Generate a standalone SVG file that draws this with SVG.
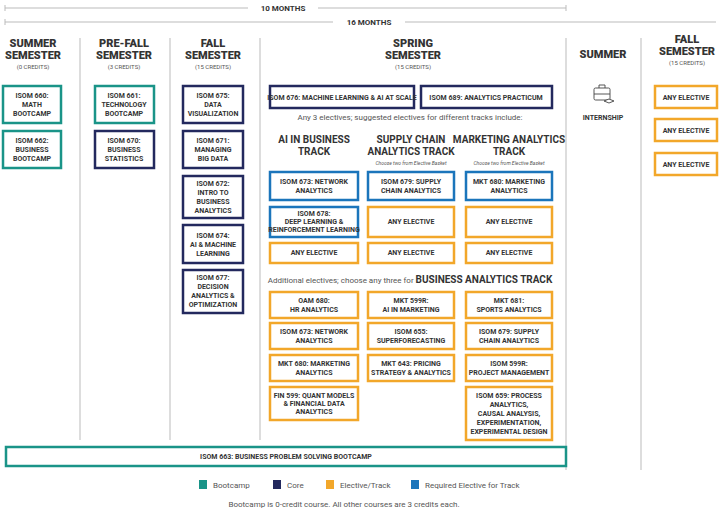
<svg xmlns="http://www.w3.org/2000/svg" width="720" height="510" viewBox="0 0 720 510">
<style>
text{font-family:Roboto,"Liberation Sans",sans-serif;fill:#333;text-anchor:middle}
.b{font-weight:bold;font-size:7px;fill:#333}
.h{font-weight:900;font-size:11px;fill:#333}
.c{font-size:6px;fill:#555}
.t{font-weight:bold;font-size:10px;fill:#333}
.s{font-size:8px;fill:#555}
.i{font-size:5px;font-style:italic;fill:#555}
rect{fill:#fff;stroke-width:2.5}
.bc{stroke:#1a9488}.co{stroke:#23295e}.el{stroke:#f2a72a}.rq{stroke:#1b75bb}
.ln{stroke:#bbb;stroke-width:1;fill:none}
</style>
<g id="timeline">
<path class="ln" d="M5 8H248M318 8H566M566 5V11M5 5V11M5 22H333M405 22H716M5 19V25"/>
<text x="283" y="11" class="b" style="font-size:8px">10 MONTHS</text>
<text x="369" y="25" class="b" style="font-size:8px">16 MONTHS</text>
</g>
<g id="connectors"><path class="ln" d="M80 38V440M170 38V440M260 38V440M566 38V470M641 38V470"/></g>
<g id="headers">
<text x="33" y="47" class="h">SUMMER</text><text x="33" y="59" class="h">SEMESTER</text><text x="33" y="69" class="c">(0 CREDITS)</text>
<text x="124" y="47" class="h">PRE-FALL</text><text x="124" y="59" class="h">SEMESTER</text><text x="124" y="69" class="c">(3 CREDITS)</text>
<text x="213" y="47" class="h">FALL</text><text x="213" y="59" class="h">SEMESTER</text><text x="213" y="69" class="c">(15 CREDITS)</text>
<text x="413" y="47" class="h">SPRING</text><text x="413" y="59" class="h">SEMESTER</text><text x="413" y="69" class="c">(15 CREDITS)</text>
<text x="603" y="58" class="h">SUMMER</text>
<text x="687" y="43" class="h">FALL</text><text x="687" y="55" class="h">SEMESTER</text><text x="687" y="65" class="c">(15 CREDITS)</text>
</g>
<g id="n660"><rect class="bc" x="3" y="86" width="58" height="37"/><text class="b" x="32" y="98">ISOM 660:</text><text class="b" x="32" y="107">MATH</text><text class="b" x="32" y="116">BOOTCAMP</text></g>
<g id="n662"><rect class="bc" x="3" y="131" width="58" height="37"/><text class="b" x="32" y="143">ISOM 662:</text><text class="b" x="32" y="152">BUSINESS</text><text class="b" x="32" y="161">BOOTCAMP</text></g>
<g id="n661"><rect class="bc" x="95" y="86" width="59" height="37"/><text class="b" x="124" y="98">ISOM 661:</text><text class="b" x="124" y="107">TECHNOLOGY</text><text class="b" x="124" y="116">BOOTCAMP</text></g>
<g id="n670"><rect class="co" x="95" y="131" width="59" height="37"/><text class="b" x="124" y="143">ISOM 670:</text><text class="b" x="124" y="152">BUSINESS</text><text class="b" x="124" y="161">STATISTICS</text></g>
<g id="n675"><rect class="co" x="183" y="86" width="60" height="37"/><text class="b" x="213" y="98">ISOM 675:</text><text class="b" x="213" y="107">DATA</text><text class="b" x="213" y="116">VISUALIZATION</text></g>
<g id="n671"><rect class="co" x="183" y="131" width="60" height="37"/><text class="b" x="213" y="143">ISOM 671:</text><text class="b" x="213" y="152">MANAGING</text><text class="b" x="213" y="161">BIG DATA</text></g>
<g id="n672"><rect class="co" x="183" y="176" width="60" height="42"/><text class="b" x="213" y="186">ISOM 672:</text><text class="b" x="213" y="195">INTRO TO</text><text class="b" x="213" y="204">BUSINESS</text><text class="b" x="213" y="213">ANALYTICS</text></g>
<g id="n674"><rect class="co" x="183" y="225" width="60" height="38"/><text class="b" x="213" y="238">ISOM 674:</text><text class="b" x="213" y="247">AI &amp; MACHINE</text><text class="b" x="213" y="256">LEARNING</text></g>
<g id="n677"><rect class="co" x="183" y="270" width="60" height="43"/><text class="b" x="213" y="280">ISOM 677:</text><text class="b" x="213" y="289">DECISION</text><text class="b" x="213" y="298">ANALYTICS &amp;</text><text class="b" x="213" y="307">OPTIMIZATION</text></g>
<g id="n676"><rect class="co" x="270" y="86" width="144" height="22"/><text class="b" x="342" y="100">ISOM 676: MACHINE LEARNING &amp; AI AT SCALE</text></g>
<g id="n689"><rect class="co" x="421" y="86" width="131" height="22"/><text class="b" x="486" y="100">ISOM 689: ANALYTICS PRACTICUM</text></g>
<text x="410" y="120" class="s">Any 3 electives; suggested electives for different tracks include:</text>
<g id="tracks">
<text x="314" y="143" class="t">AI IN BUSINESS</text><text x="314" y="155" class="t">TRACK</text>
<text x="411" y="143" class="t">SUPPLY CHAIN</text><text x="411" y="155" class="t">ANALYTICS TRACK</text><text x="411" y="165" class="i">Choose two from Elective Basket</text>
<text x="509" y="143" class="t">MARKETING ANALYTICS</text><text x="509" y="155" class="t">TRACK</text><text x="509" y="165" class="i">Choose two from Elective Basket</text>
</g>
<g id="n673a"><rect class="rq" x="270" y="172" width="88" height="28"/><text class="b" x="314" y="184">ISOM 673: NETWORK</text><text class="b" x="314" y="193">ANALYTICS</text></g>
<g id="n679a"><rect class="rq" x="368" y="172" width="86" height="28"/><text class="b" x="411" y="184">ISOM 679: SUPPLY</text><text class="b" x="411" y="193">CHAIN ANALYTICS</text></g>
<g id="n680a"><rect class="rq" x="466" y="172" width="86" height="28"/><text class="b" x="509" y="184">MKT 680: MARKETING</text><text class="b" x="509" y="193">ANALYTICS</text></g>
<g id="n678"><rect class="rq" x="270" y="207" width="88" height="30"/><text class="b" x="314" y="216">ISOM 678:</text><text class="b" x="314" y="224">DEEP LEARNING &amp;</text><text class="b" x="314" y="232">REINFORCEMENT LEARNING</text></g>
<g id="e1"><rect class="el" x="368" y="207" width="86" height="30"/><text class="b" x="411" y="224">ANY ELECTIVE</text></g>
<g id="e2"><rect class="el" x="466" y="207" width="86" height="30"/><text class="b" x="509" y="224">ANY ELECTIVE</text></g>
<g id="e3"><rect class="el" x="270" y="243" width="88" height="20"/><text class="b" x="314" y="255">ANY ELECTIVE</text></g>
<g id="e4"><rect class="el" x="368" y="243" width="86" height="20"/><text class="b" x="411" y="255">ANY ELECTIVE</text></g>
<g id="e5"><rect class="el" x="466" y="243" width="86" height="20"/><text class="b" x="509" y="255">ANY ELECTIVE</text></g>
<text x="410" y="283" class="s">Additional electives; choose any three for <tspan font-weight="bold" font-size="10" fill="#333">BUSINESS ANALYTICS TRACK</tspan></text>
<g id="oam680"><rect class="el" x="270" y="292" width="88" height="26"/><text class="b" x="314" y="303">OAM 680:</text><text class="b" x="314" y="312">HR ANALYTICS</text></g>
<g id="mkt599"><rect class="el" x="368" y="292" width="86" height="26"/><text class="b" x="411" y="303">MKT 599R:</text><text class="b" x="411" y="312">AI IN MARKETING</text></g>
<g id="mkt681"><rect class="el" x="466" y="292" width="86" height="26"/><text class="b" x="509" y="303">MKT 681:</text><text class="b" x="509" y="312">SPORTS ANALYTICS</text></g>
<g id="n673b"><rect class="el" x="270" y="323" width="88" height="26"/><text class="b" x="314" y="334">ISOM 673: NETWORK</text><text class="b" x="314" y="343">ANALYTICS</text></g>
<g id="n655"><rect class="el" x="368" y="323" width="86" height="26"/><text class="b" x="411" y="334">ISOM 655:</text><text class="b" x="411" y="343">SUPERFORECASTING</text></g>
<g id="n679b"><rect class="el" x="466" y="323" width="86" height="26"/><text class="b" x="509" y="334">ISOM 679: SUPPLY</text><text class="b" x="509" y="343">CHAIN ANALYTICS</text></g>
<g id="mkt680b"><rect class="el" x="270" y="355" width="88" height="26"/><text class="b" x="314" y="366">MKT 680:  MARKETING</text><text class="b" x="314" y="375">ANALYTICS</text></g>
<g id="mkt643"><rect class="el" x="368" y="355" width="86" height="26"/><text class="b" x="411" y="366">MKT 643: PRICING</text><text class="b" x="411" y="375">STRATEGY &amp; ANALYTICS</text></g>
<g id="isom599"><rect class="el" x="466" y="355" width="86" height="26"/><text class="b" x="509" y="366">ISOM 599R:</text><text class="b" x="509" y="375">PROJECT MANAGEMENT</text></g>
<g id="fin599"><rect class="el" x="270" y="387" width="88" height="33"/><text class="b" x="314" y="398">FIN 599: QUANT MODELS</text><text class="b" x="314" y="406">&amp; FINANCIAL DATA</text><text class="b" x="314" y="414">ANALYTICS</text></g>
<g id="n659"><rect class="el" x="466" y="387" width="86" height="53"/><text class="b" x="509" y="398">ISOM 659:  PROCESS</text><text class="b" x="509" y="407">ANALYTICS,</text><text class="b" x="509" y="416">CAUSAL ANALYSIS,</text><text class="b" x="509" y="425">EXPERIMENTATION,</text><text class="b" x="509" y="434">EXPERIMENTAL DESIGN</text></g>
<g id="internship">
<g fill="none" stroke="#444" stroke-width="0.9"><rect x="594" y="88" width="16" height="12" rx="1.5" style="stroke:#444;stroke-width:0.9;fill:none"/><path d="M599 88V85H605V88M594 94H610"/><path d="M604 101L609 99L614 101L609 103Z" fill="#fff"/></g>
<text x="603" y="120" class="b">INTERNSHIP</text>
</g>
<g id="f1"><rect class="el" x="655" y="86" width="62" height="22"/><text class="b" x="686" y="100">ANY ELECTIVE</text></g>
<g id="f2"><rect class="el" x="655" y="119" width="62" height="22"/><text class="b" x="686" y="133">ANY ELECTIVE</text></g>
<g id="f3"><rect class="el" x="655" y="153" width="62" height="22"/><text class="b" x="686" y="167">ANY ELECTIVE</text></g>
<g id="n663"><rect class="bc" x="6" y="447" width="560" height="19"/><text class="b" x="286" y="459">ISOM 663: BUSINESS PROBLEM SOLVING BOOTCAMP</text></g>
<g id="legend">
<rect x="199" y="480" width="8" height="9" style="fill:#1a9488;stroke:none"/><text x="213" y="488" class="s" style="text-anchor:start">Bootcamp</text>
<rect x="273" y="480" width="8" height="9" style="fill:#23295e;stroke:none"/><text x="287" y="488" class="s" style="text-anchor:start">Core</text>
<rect x="326" y="480" width="8" height="9" style="fill:#f2a72a;stroke:none"/><text x="340" y="488" class="s" style="text-anchor:start">Elective/Track</text>
<rect x="411" y="480" width="8" height="9" style="fill:#1b75bb;stroke:none"/><text x="425" y="488" class="s" style="text-anchor:start">Required Elective for Track</text>
<text x="344" y="507" class="s">Bootcamp is 0-credit course. All other courses are 3 credits each.</text>
</g>
</svg>
